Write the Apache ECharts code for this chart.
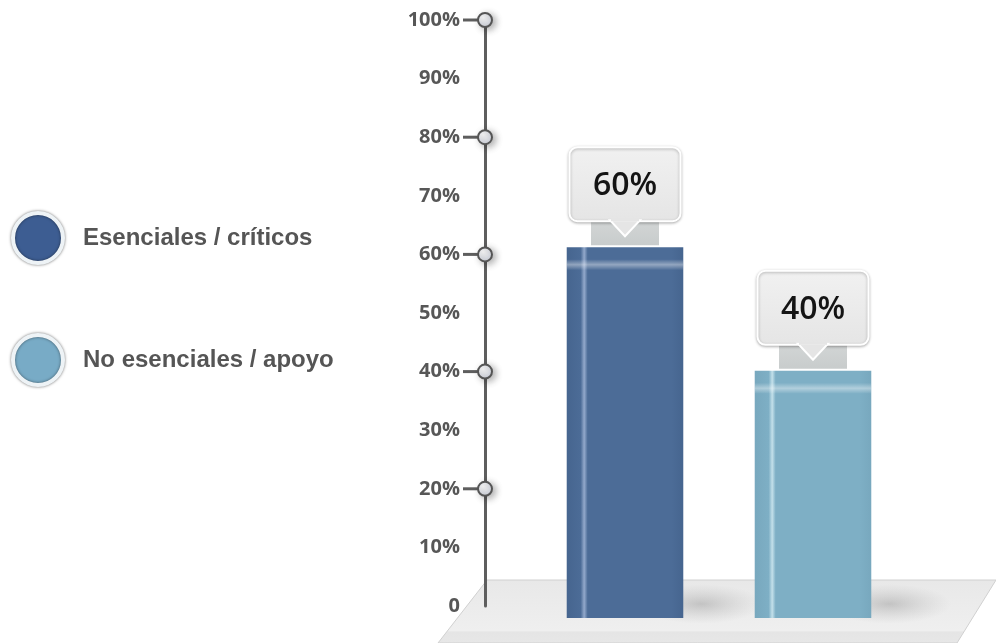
<!DOCTYPE html>
<html>
<head>
<meta charset="utf-8">
<script src="https://cdn.jsdelivr.net/npm/echarts@6/dist/echarts.min.js"></script>
<style>html,body{margin:0;padding:0;background:#fff}#c{width:996px;height:643px}</style>
</head>
<body>
<div id="c"></div>
<script>
const categories = ['Esenciales / críticos', 'No esenciales / apoyo'];
const values = [60, 40];
const tickMarks = [20, 40, 60, 80, 100];
const axisMax = 100;
const axisStep = 10;

const barStyles = [
  {base: '#4c6c97', dark: '#46658f', stripe: '#93a9cb', legend: '#3d5d92'},
  {base: '#7eafc5', dark: '#78a8be', stripe: '#c3e0ea', legend: '#78abc6'}
];

const chart = echarts.init(document.getElementById('c'));

function barRender(idx) {
  return function (params, api) {
    const top = api.coord([api.value(0), api.value(1)]);
    const bottom = api.coord([api.value(0), 0]);
    const w = api.size([1, 0])[0] * 0.62;
    const cx = top[0];
    const x = cx - w / 2;
    const h = bottom[1] - top[1];
    const st = barStyles[idx];
    const boxW = 111, boxH = 74;
    const boxBottom = top[1] - 26;
    const boxTop = boxBottom - boxH;
    const neckW = 68;
    const shX = x + w + 18, shY = bottom[1] - 14;
    return {
      type: 'group',
      children: [
        {type: 'circle', shape: {cx: shX, cy: shY, r: 62}, scaleY: 0.32, originX: shX, originY: shY,
          style: {fill: {type: 'radial', x: 0.5, y: 0.5, r: 0.5, colorStops: [{offset: 0, color: 'rgba(110,110,110,0.32)'}, {offset: 0.5, color: 'rgba(130,130,130,0.16)'}, {offset: 1, color: 'rgba(150,150,150,0)'}]}}},
        {type: 'rect', shape: {x: x, y: top[1], width: w, height: h},
          style: {fill: {type: 'linear', x: 0, y: 0, x2: 1, y2: 0, colorStops: [
            {offset: 0, color: st.dark}, {offset: 0.12, color: st.base}, {offset: 0.15, color: st.stripe},
            {offset: 0.18, color: st.base}, {offset: 0.9, color: st.base}, {offset: 1, color: st.dark}]}}},
        {type: 'rect', shape: {x: x, y: top[1] + 12, width: w, height: 11},
          style: {fill: {type: 'linear', x: 0, y: 0, x2: 0, y2: 1, colorStops: [
            {offset: 0, color: 'rgba(255,255,255,0)'}, {offset: 0.5, color: 'rgba(255,255,255,0.4)'}, {offset: 1, color: 'rgba(255,255,255,0)'}]}}},
        {type: 'rect', shape: {x: cx - neckW / 2, y: boxBottom, width: neckW, height: top[1] - boxBottom - 2},
          style: {fill: {type: 'linear', x: 0, y: 0, x2: 0, y2: 1, colorStops: [{offset: 0, color: '#d2d5d5'}, {offset: 1, color: '#c8cccc'}]}}},
        {type: 'rect', shape: {x: cx - boxW / 2, y: boxTop, width: boxW, height: boxH, r: 8},
          style: {fill: {type: 'linear', x: 0, y: 0, x2: 0, y2: 1, colorStops: [{offset: 0, color: '#f1f1f1'}, {offset: 1, color: '#e5e5e5'}]},
            stroke: '#ffffff', lineWidth: 2, shadowBlur: 3, shadowColor: 'rgba(0,0,0,0.28)', shadowOffsetY: 1}},
        {type: 'polygon', shape: {points: [[cx - 15, boxBottom - 1], [cx + 15, boxBottom - 1], [cx, boxBottom + 15]]},
          style: {fill: '#e5e5e5', stroke: '#ffffff', lineWidth: 2}},
        {type: 'rect', shape: {x: cx - 14, y: boxBottom - 3, width: 28, height: 3}, style: {fill: '#e5e5e5'}},
        {type: 'text', x: cx, y: boxTop + boxH / 2 + 2,
          style: {text: api.value(1) + '%', fill: '#141414', font: '600 32px "Open Sans", sans-serif', align: 'center', verticalAlign: 'middle'}}
      ]
    };
  };
}

function tickRender(params, api) {
  const p = api.coord([0, api.value(0)]);
  return {
    type: 'group',
    children: [
      {type: 'line', shape: {x1: p[0] - 22, y1: p[1], x2: p[0] - 6, y2: p[1]}, style: {stroke: '#5e5e5e', lineWidth: 3}},
      {type: 'circle', shape: {cx: p[0], cy: p[1], r: 7},
        style: {fill: {type: 'radial', x: 0.4, y: 0.35, r: 0.7, colorStops: [{offset: 0, color: '#ffffff'}, {offset: 1, color: '#cdd1dc'}]},
          stroke: '#555', lineWidth: 2, shadowBlur: 7, shadowColor: 'rgba(0,0,0,0.3)', shadowOffsetX: 3, shadowOffsetY: 2}}
    ]
  };
}

const option = {
  backgroundColor: '#ffffff',
  animation: false,
  graphic: [
    {type: 'polygon', z: 0, shape: {points: [[487, 580], [996, 580], [957, 643], [438, 643]]},
      style: {fill: {type: 'linear', x: 0, y: 0, x2: 0, y2: 1, colorStops: [{offset: 0, color: '#e8e8e8'}, {offset: 0.8, color: '#efefef'}, {offset: 0.82, color: '#e5e5e5'}, {offset: 1, color: '#e7e7e7'}]},
        stroke: '#d0d0d0', lineWidth: 1}}
  ],
  legend: {
    orient: 'vertical', left: 6, top: 206, itemGap: 68, itemWidth: 50, itemHeight: 50,
    selectedMode: false,
    textStyle: {fontFamily: '"Liberation Sans Narrow", "Liberation Sans", sans-serif', fontWeight: 'bold', fontSize: 24, color: '#555555', padding: [0, 0, 0, 15]},
    data: categories.map((c, i) => ({name: c, icon: 'circle',
      itemStyle: {color: barStyles[i].legend, borderColor: '#eef3f6', borderWidth: 4, shadowBlur: 3, shadowColor: 'rgba(0,0,0,0.5)'}}))
  },
  grid: [
    {left: 485, top: 20, bottom: 37, width: 10},
    {left: 531, width: 376, top: 0, bottom: 25}
  ],
  xAxis: [
    {gridIndex: 0, type: 'value', min: 0, max: 1, show: false},
    {gridIndex: 1, type: 'category', data: categories, show: false}
  ],
  yAxis: [
    {gridIndex: 0, type: 'value', min: 0, max: axisMax, interval: axisStep,
      axisLine: {show: true, lineStyle: {color: '#5e5e5e', width: 3}},
      axisTick: {show: false}, splitLine: {show: false},
      axisLabel: {margin: 25, color: '#575757', fontFamily: '"Open Sans", sans-serif', fontWeight: 'bold', fontSize: 20,
        formatter: v => v === 0 ? '0' : v + '%'}},
    {gridIndex: 1, type: 'value', min: 0, max: axisMax, show: false}
  ],
  series: [
    {type: 'custom', xAxisIndex: 0, yAxisIndex: 0, z: 5, renderItem: tickRender, data: tickMarks.map(v => [v]), encode: {y: 0}, silent: true},
    {type: 'custom', name: categories[0], xAxisIndex: 1, yAxisIndex: 1, z: 3, itemStyle: {color: barStyles[0].base},
      renderItem: barRender(0), data: [[0, values[0]]]},
    {type: 'custom', name: categories[1], xAxisIndex: 1, yAxisIndex: 1, z: 3, itemStyle: {color: barStyles[1].base},
      renderItem: barRender(1), data: [[1, values[1]]]}
  ]
};
chart.setOption(option);
</script>
</body>
</html>
